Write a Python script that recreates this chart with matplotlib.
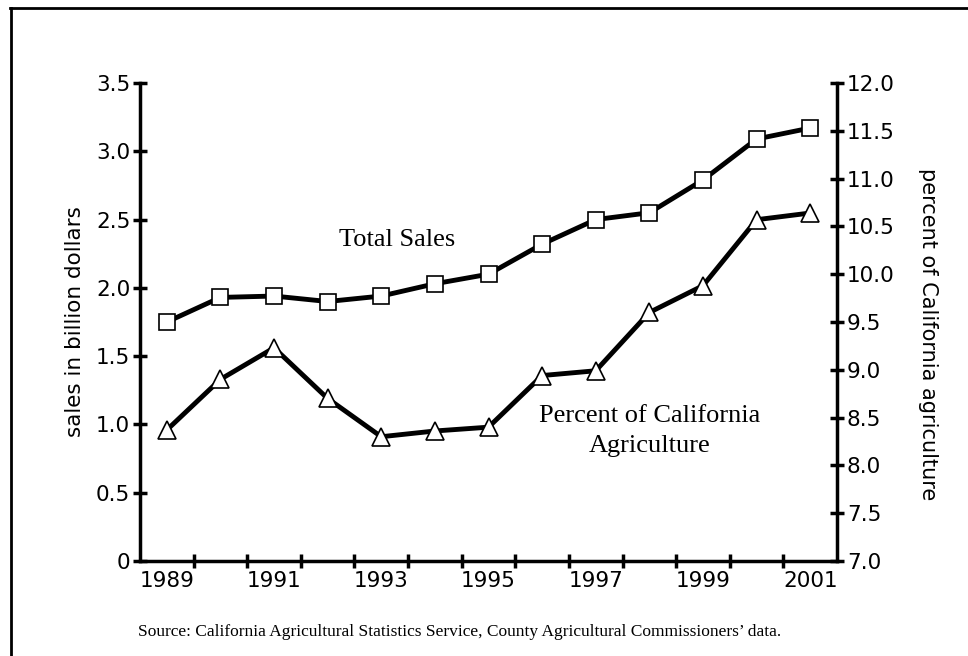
import matplotlib
matplotlib.use("Agg")
import matplotlib.pyplot as plt
from matplotlib.lines import Line2D

years = [1989, 1990, 1991, 1992, 1993, 1994, 1995, 1996, 1997, 1998, 1999, 2000, 2001]
total_sales = [1.75, 1.93, 1.94, 1.90, 1.94, 2.03, 2.10, 2.32, 2.50, 2.55, 2.79, 3.09, 3.17]
pct_ag = [8.37, 8.90, 9.23, 8.70, 8.30, 8.36, 8.40, 8.94, 8.99, 9.60, 9.88, 10.57, 10.64]
left_ticks = [0, 0.5, 1.0, 1.5, 2.0, 2.5, 3.0, 3.5]
left_labels = ["0", "0.5", "1.0", "1.5", "2.0", "2.5", "3.0", "3.5"]
right_ticks = [7.0, 7.5, 8.0, 8.5, 9.0, 9.5, 10.0, 10.5, 11.0, 11.5, 12.0]
year_labels = [1989, 1991, 1993, 1995, 1997, 1999, 2001]

sans = "DejaVu Sans"
serif = "Liberation Serif"

fig = plt.figure(figsize=(9.68, 6.56), dpi=100)
ax = fig.add_axes([0.1446, 0.1448, 0.7201, 0.7287])
ax2 = ax.twinx()

# frame around the figure (top and left only visible)
fig.add_artist(Line2D([0.0105, 1.0], [0.988, 0.988], transform=fig.transFigure, color="black", lw=2))
fig.add_artist(Line2D([0.0115, 0.0115], [0.0, 0.988], transform=fig.transFigure, color="black", lw=2))

ax.plot(years, total_sales, color="black", lw=3.5, marker="s", markersize=12,
        markerfacecolor="white", markeredgecolor="black", markeredgewidth=1.2, zorder=3)
ax2.plot(years, pct_ag, color="black", lw=3.5, marker="^", markersize=13,
         markerfacecolor="white", markeredgecolor="black", markeredgewidth=1.2, zorder=3)

ax.set_xlim(1988.5, 2001.5)
ax.set_ylim(0, 3.5)
ax2.set_ylim(7.0, 12.0)

for a in (ax, ax2):
    a.spines["top"].set_visible(False)
    for s in ("left", "right", "bottom"):
        a.spines[s].set_linewidth(2.5)

ax.spines["right"].set_visible(False)
ax2.spines["left"].set_visible(False)
ax2.spines["bottom"].set_visible(False)

# year boundaries as ticks, labels centered on odd years
ax.set_xticks([y + 0.5 for y in years[:-1]], minor=True)
ax.set_xticks(year_labels)
ax.set_xticklabels([str(y) for y in year_labels], fontsize=15.5, family=sans)
ax.tick_params(axis="x", which="major", length=0, pad=7)
ax.tick_params(axis="x", which="minor", direction="inout", length=10, width=2.5)

ax.set_yticks(left_ticks)
ax.set_yticklabels(left_labels, fontsize=15.5, family=sans)
ax.tick_params(axis="y", direction="inout", length=10, width=2.5, pad=2)

ax2.set_yticks(right_ticks)
ax2.set_yticklabels([f"{t:.1f}" for t in right_ticks], fontsize=15.5, family=sans)
ax2.tick_params(axis="y", direction="inout", length=10, width=2.5, pad=2)

ax.set_ylabel("sales in billion dollars", fontsize=15.5, family=sans, labelpad=8)
ax2.set_ylabel("percent of California agriculture", fontsize=15, family=sans,
               rotation=-90, va="center")
ax2.yaxis.set_label_coords(1.13, 0.475)

ax.text(1993.3, 2.35, "Total Sales", fontsize=19, family=serif, ha="center", va="center")
ax.text(1998.0, 0.95, "Percent of California\nAgriculture", fontsize=19, family=serif,
        ha="center", va="center", linespacing=1.45)

fig.text(0.475, 0.037, "Source: California Agricultural Statistics Service, County Agricultural Commissioners\u2019 data.",
         fontsize=12.5, family=serif, ha="center", va="center")

fig.savefig("out.png", dpi=100)
